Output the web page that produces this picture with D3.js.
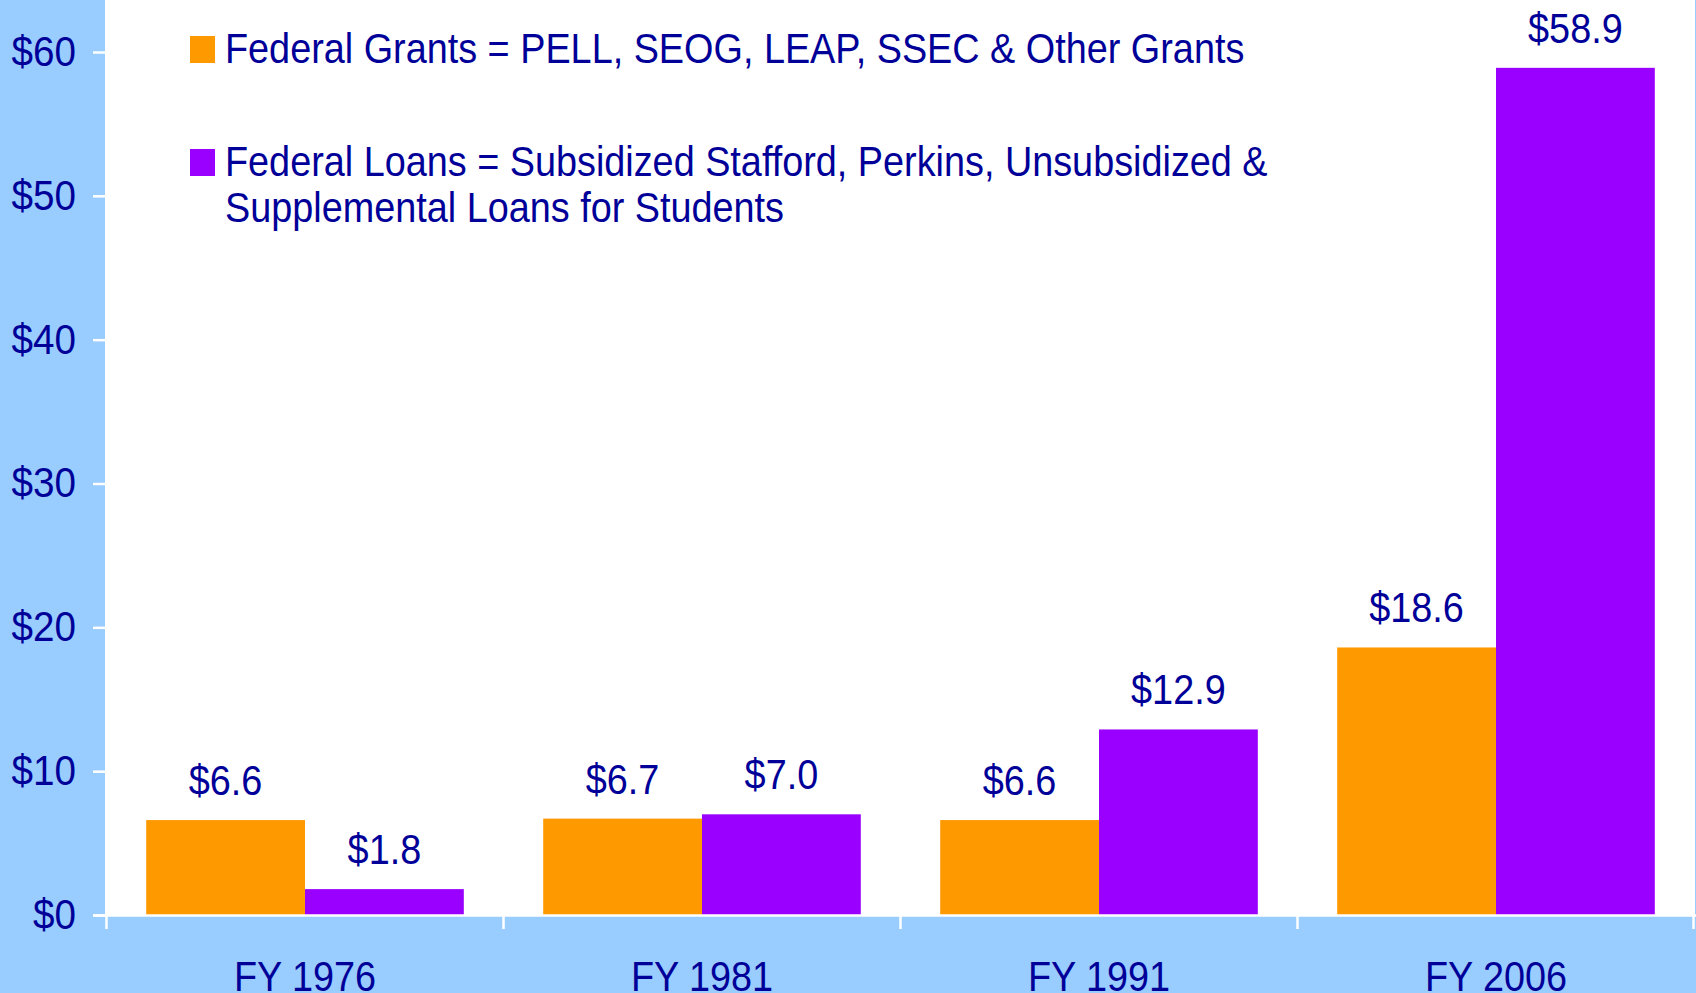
<!DOCTYPE html>
<html>
<head>
<meta charset="utf-8">
<script src="https://cdn.jsdelivr.net/npm/d3@7"></script>
<style>
  body { margin: 0; background: #99ccff; overflow: hidden; }
  text { font-family: 'Liberation Sans', Arial, sans-serif; fill: #000099; }
</style>
</head>
<body>
<div id="chart"></div>
<script>
const categories = ['FY 1976', 'FY 1981', 'FY 1991', 'FY 2006'];
const seriesNames = ['grants', 'loans'];
const grants = [6.6, 6.7, 6.6, 18.6];
const loans = [1.8, 7.0, 12.9, 58.9];
const yTicks = [0, 10, 20, 30, 40, 50, 60];
const legendLines = [
  ['Federal Grants = PELL, SEOG, LEAP, SSEC & Other Grants'],
  ['Federal Loans = Subsidized Stafford, Perkins, Unsubsidized &', 'Supplemental Loans for Students']
];

const width = 1696;
const height = 993;
const colors = { grants: '#ff9900', loans: '#9900ff' };

// the source text is a bit narrower than Arial, squeeze it
function squeeze(sel, k = 0.9) {
  sel.each(function() {
    const w = this.getComputedTextLength();
    d3.select(this)
        .attr('textLength', w * k)
        .attr('lengthAdjust', 'spacingAndGlyphs');
  });
}

const svg = d3.select('#chart')
    .append('svg')
    .attr('width', width)
    .attr('height', height);

const xScale = d3.scaleBand()
    .domain(categories)
    .range([106.5, 1694.5]);
const bw = xScale.bandwidth();
const xInner = d3.scaleBand()
    .domain(seriesNames)
    .range([bw * 0.1, bw * 0.9]);
const yScale = d3.scaleLinear()
    .domain([0, 60])
    .range([915, 52]);

// plot area
svg.append('rect')
    .attr('x', 105)
    .attr('y', 0)
    .attr('width', 1590)
    .attr('height', yScale(0))
    .attr('fill', '#fff');

const data = categories.map((c, i) => ({ cat: c, grants: grants[i], loans: loans[i] }));

const groups = svg.selectAll('.group')
    .data(data)
    .enter()
    .append('g')
    .classed('group', true)
    .attr('transform', d => `translate(${xScale(d.cat)},0)`);

groups.selectAll('.bar')
    .data(d => seriesNames.map(s => ({ key: s, val: d[s] })))
    .enter()
    .append('rect')
    .classed('bar', true)
    .attr('x', d => xInner(d.key))
    .attr('y', d => yScale(d.val))
    .attr('width', xInner.bandwidth())
    .attr('height', d => yScale(0) - yScale(d.val))
    .attr('fill', d => colors[d.key]);

groups.selectAll('.bar-label')
    .data(d => seriesNames.map(s => ({ key: s, val: d[s] })))
    .enter()
    .append('text')
    .classed('bar-label', true)
    .attr('x', d => xInner(d.key) + xInner.bandwidth() / 2)
    .attr('y', d => yScale(d.val) - 25)
    .attr('text-anchor', 'middle')
    .style('font-size', '42px')
    .text(d => '$' + d.val.toFixed(1))
    .call(squeeze);

// y axis
const yAxis = d3.axisLeft(yScale)
    .tickValues(yTicks)
    .tickSize(12)
    .tickPadding(17)
    .tickFormat(d => '$' + d);

const yG = svg.append('g')
    .classed('y axis', true)
    .attr('transform', 'translate(105,0)')
    .call(yAxis);
yG.select('.domain').remove();
yG.selectAll('line').attr('stroke', '#fff').attr('stroke-width', 2.5);
yG.selectAll('text')
    .attr('fill', '#000099')
    .attr('dy', '0.32em')
    .style('font-size', '42px')
    .style('font-family', "'Liberation Sans', Arial, sans-serif")
    .call(squeeze, 0.92);

// x axis line and boundary ticks
svg.append('line')
    .attr('x1', 93)
    .attr('x2', width)
    .attr('y1', yScale(0) + 0.5)
    .attr('y2', yScale(0) + 0.5)
    .attr('stroke', '#fff')
    .attr('stroke-width', 2.5);

const bounds = categories.map(c => xScale(c)).concat([xScale.range()[1] - 1]);
svg.selectAll('.x-tick')
    .data(bounds)
    .enter()
    .append('line')
    .classed('x-tick', true)
    .attr('x1', d => d)
    .attr('x2', d => d)
    .attr('y1', yScale(0))
    .attr('y2', yScale(0) + 14)
    .attr('stroke', '#fff')
    .attr('stroke-width', 2.5);

svg.selectAll('.x-label')
    .data(categories)
    .enter()
    .append('text')
    .classed('x-label', true)
    .attr('x', d => xScale(d) + bw / 2)
    .attr('y', 991)
    .attr('text-anchor', 'middle')
    .style('font-size', '42px')
    .text(d => d)
    .call(squeeze);

// legend
const legendTop = [36, 149];
const legend = svg.selectAll('.legend')
    .data(legendLines)
    .enter()
    .append('g')
    .classed('legend', true)
    .attr('transform', (d, i) => `translate(190,${legendTop[i]})`);

legend.append('rect')
    .attr('width', 25)
    .attr('height', 27)
    .attr('fill', (d, i) => colors[seriesNames[i]]);

legend.selectAll('text')
    .data(d => d)
    .enter()
    .append('text')
    .attr('x', 35)
    .attr('y', (d, j) => 27 + j * 46)
    .style('font-size', '42px')
    .text(d => d)
    .call(squeeze, 0.9);
</script>
</body>
</html>
